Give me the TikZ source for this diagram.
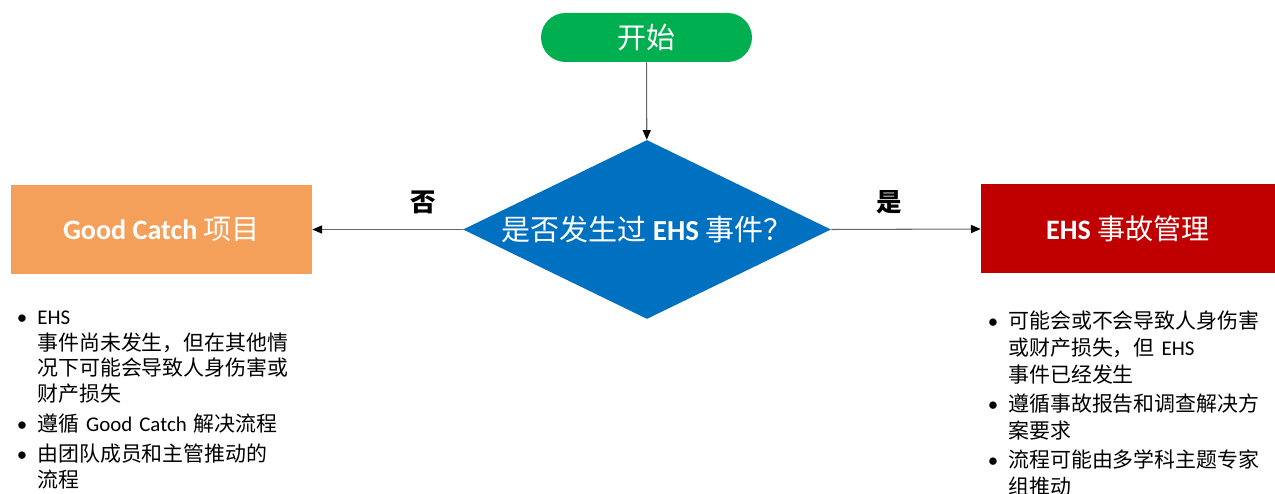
\documentclass[tikz,border=0pt]{standalone}
\usepackage{fontspec}
\setmainfont{Carlito}
\newfontfamily\cjk{Noto Sans CJK SC}
\usepackage{enumitem}
\usetikzlibrary{shapes.geometric,arrows.meta}
\definecolor{startgreen}{HTML}{00B050}
\definecolor{askblue}{HTML}{0070C0}
\definecolor{catchorange}{HTML}{F5A05A}
\definecolor{incidentred}{HTML}{C00000}
\setlist[itemize]{label=\textbullet, leftmargin=0.36cm, labelsep=0.2cm, topsep=0pt, partopsep=0pt, parsep=0pt, itemsep=2.5pt}
\begin{document}
\begin{tikzpicture}[
    every node/.style={inner sep=0pt},
    box/.style={rectangle, minimum height=1.78cm, text=white, font=\fontsize{16}{19}\selectfont},
    flow/.style={draw=black!60, line width=0.6pt, -{Triangle[length=5.5pt,width=4.6pt,color=black]}},
    answer/.style={above=0.3cm, font=\fontsize{14.5}{16}\selectfont\cjk\bfseries},
    note/.style={anchor=north west, text width=6.2cm, align=left, font=\fontsize{11.9}{14.6}\selectfont}
  ]
    \useasboundingbox (0,0) rectangle (25.5,9.88);
    \node[fill=startgreen, rounded corners=0.49cm, minimum width=4.22cm, minimum height=0.98cm, text=white, font=\fontsize{16.5}{19}\selectfont] (start) at (12.93,9.13) {\cjk 开始};
    \node[diamond, fill=askblue, aspect=2.06, minimum width=7.36cm, minimum height=3.58cm, text=white, font=\fontsize{16.5}{19}\selectfont] (ask) at (12.94,5.29) {{\cjk 是否发生过} \textbf{EHS} {\cjk 事件？}};
    \node[box, fill=catchorange, minimum width=6.02cm] (catch) at (3.23,5.29) {\textbf{Good Catch} {\cjk 项目}};
    \node[box, fill=incidentred, minimum width=5.88cm] (incident) at (22.56,5.3) {\textbf{EHS} {\cjk 事故管理}};
    \draw[flow] (start) -- (ask);
    \draw[flow] (ask.west) -- node[pos=.26, answer] (no) {否} (catch.east);
    \draw[flow] (ask.east) -- node[pos=.39, answer] (yes) {是} (incident.west);
    % notes under the two outcomes
    \node[note] (catchnote) at (0.38,3.91) {\begin{itemize}
      \item EHS\\{\cjk 事件尚未发生，但在其他情}\\{\cjk 况下可能会导致人身伤害或}\\{\cjk 财产损失}
      \item {\cjk 遵循} Good Catch {\cjk 解决流程}
      \item {\cjk 由团队成员和主管推动的}\\{\cjk 流程}
    \end{itemize}};
    \node[note, font=\fontsize{11.9}{15.3}\selectfont] (incidentnote) at (19.8,3.86) {\begin{itemize}[itemsep=1.5pt]
      \item {\cjk 可能会或不会导致人身伤害}\\{\cjk 或财产损失，但} EHS\\{\cjk 事件已经发生}
      \item {\cjk 遵循事故报告和调查解决方}\\{\cjk 案要求}
      \item {\cjk 流程可能由多学科主题专家}\\{\cjk 组推动}
    \end{itemize}};
\end{tikzpicture}
\end{document}
